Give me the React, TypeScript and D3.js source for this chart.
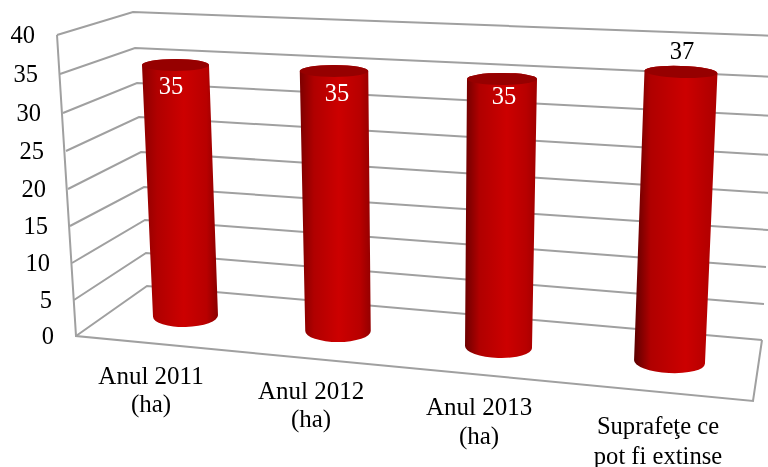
import React from "react";
import * as d3 from "d3";

// ---- data
const categories = [["Anul 2011", "(ha)"], ["Anul 2012", "(ha)"], ["Anul 2013", "(ha)"], ["Suprafeţe ce", "pot fi extinse"]];
const values = [35, 35, 35, 37];
const ticks = [0, 5, 10, 15, 20, 25, 30, 35, 40];

// ---- wall geometry (3D frame seen in perspective)
const frontYs = [336, 300, 263, 226, 189, 151, 113, 74, 35];
const frontXs = [76, 74, 72, 70, 68, 66, 63, 60, 57];
const backYs = [286, 253, 220, 187, 152, 117, 83, 48, 12];
const backXs = [147, 146, 145, 144, 141, 139, 137, 135, 133];
const rightYs = [340, 304, 267, 230, 193, 155, 116, 77, 36];
const rightXs = [762, 764, 766, 768, 770, 772, 774, 776, 778];
const floorFrontRight = [753, 401];

const scaleOn = (r: number[]) => d3.scaleLinear().domain(ticks).range(r);
const fy = scaleOn(frontYs), fx = scaleOn(frontXs);
const by = scaleOn(backYs), bx = scaleOn(backXs);
const ry = scaleOn(rightYs), rx = scaleOn(rightXs);

// ---- cylinder layout per category
const baseCx = [185.5, 338, 498.5, 669.5];
const baseCy = [316, 331, 347, 362];
const pxPerUnit = [7.17, 7.43, 7.66, 7.84];
const leanPerUnit = [-0.286, -0.114, 0.1, 0.31];
const rxBase = [32.5, 32.75, 33.5, 35.5];
const rxTop = [33.5, 34.25, 35, 36.5];
const tiltBase = [-1.5, 0, 2, 3];
const tiltTop = [0, 0, 0, 2];
const edgeLeft = ["#8c0000", "#7c0000", "#6e0000", "#5c0000"];
const edgeRight = ["#8a0000", "#940000", "#a00000", "#ac0000"];
const peak = [0.55, 0.55, 0.58, 0.62];

const labelX = [151, 311, 479, 658];
const labelY = [384, 399, 415, 434];
const labelDy = [28, 28, 29, 30];
const labelSize = [25, 25, 25, 24.6];
const valueLabelX = [171, 337, 504, 682];
const valueLabelY = [94, 101, 104, 59];
const valueLabelFill = ["#fff", "#fff", "#fff", "#000"];

const GRID = "#a0a0a0";
const FONT = "'Liberation Serif','Times New Roman',serif";

export default function App() {
  const line = d3.line();
  return (
    <svg width={768} height={467} style={{ position: "absolute", left: 0, top: 0, background: "#fff" }} fontFamily={FONT}>
      <defs>
        <filter id="soft" x="-5%" y="-5%" width="110%" height="110%">
          <feGaussianBlur stdDeviation="0.45" />
        </filter>
        <filter id="softText" x="-5%" y="-5%" width="110%" height="110%">
          <feGaussianBlur stdDeviation="0.3" />
        </filter>
        {values.map((_, i) => (
          <linearGradient key={i} id={`cyl${i}`} x1="0" x2="1" y1="0" y2="0">
            <stop offset="0" stopColor={edgeLeft[i]} />
            <stop offset="0.2" stopColor="#b00000" />
            <stop offset={peak[i]} stopColor="#cc0000" />
            <stop offset="0.85" stopColor="#b80000" />
            <stop offset="1" stopColor={edgeRight[i]} />
          </linearGradient>
        ))}
      </defs>
      <g fill="none" stroke={GRID} strokeWidth={2} filter="url(#soft)">
        {ticks.map((t) => (
          <path key={t} d={line([[fx(t), fy(t)], [bx(t), by(t)], [rx(t), ry(t)]]) as string} strokeLinejoin="miter" />
        ))}
        <path d={line([[fx(40), fy(40)], [fx(0), fy(0)], floorFrontRight as [number, number], [rx(0), ry(0)]]) as string} />
      </g>
      <g filter="url(#soft)">
        {values.map((v, i) => {
          const h = v * pxPerUnit[i];
          const tx = baseCx[i] + v * leanPerUnit[i];
          const ty = baseCy[i] - h;
          const bRx = rxBase[i], tRx = rxTop[i];
          const bRy = 11, tRy = 6;
          const a = (tiltBase[i] * Math.PI) / 180;
          const dx = bRx * Math.cos(a), dy = bRx * Math.sin(a);
          const a2 = (tiltTop[i] * Math.PI) / 180;
          const dx2 = tRx * Math.cos(a2), dy2 = tRx * Math.sin(a2);
          const cx = baseCx[i];
          const body = `M${tx - dx2},${ty - dy2} L${cx - dx},${baseCy[i] - dy} A${bRx},${bRy} ${tiltBase[i]} 0 0 ${cx + dx},${baseCy[i] + dy} L${tx + dx2},${ty + dy2} A${tRx},${tRy} ${tiltTop[i]} 0 0 ${tx - dx2},${ty - dy2} Z`;
          return (
            <g key={i}>
              <path d={body} fill={`url(#cyl${i})`} />
              <ellipse cx={tx} cy={ty} rx={tRx} ry={tRy} fill="#960000" transform={`rotate(${tiltTop[i]} ${tx} ${ty})`} />
            </g>
          );
        })}
      </g>
      <g filter="url(#softText)">
        <g fontSize={24.5} textAnchor="end" fill="#000">
          {ticks.map((t) => (
            <text key={t} x={fx(t) - 22} y={fy(t) + 8}>{t}</text>
          ))}
        </g>
        <g textAnchor="middle" fill="#000">
          {categories.map((c, i) => (
            <text key={i} fontSize={labelSize[i]}>
              <tspan x={labelX[i]} y={labelY[i]}>{c[0]}</tspan>
              <tspan x={labelX[i]} y={labelY[i] + labelDy[i]}>{c[1]}</tspan>
            </text>
          ))}
        </g>
        <g textAnchor="middle" fontSize={24.5}>
          {values.map((v, i) => (
            <text key={i} x={valueLabelX[i]} y={valueLabelY[i]} fill={valueLabelFill[i]}>{v}</text>
          ))}
        </g>
      </g>
    </svg>
  );
}
